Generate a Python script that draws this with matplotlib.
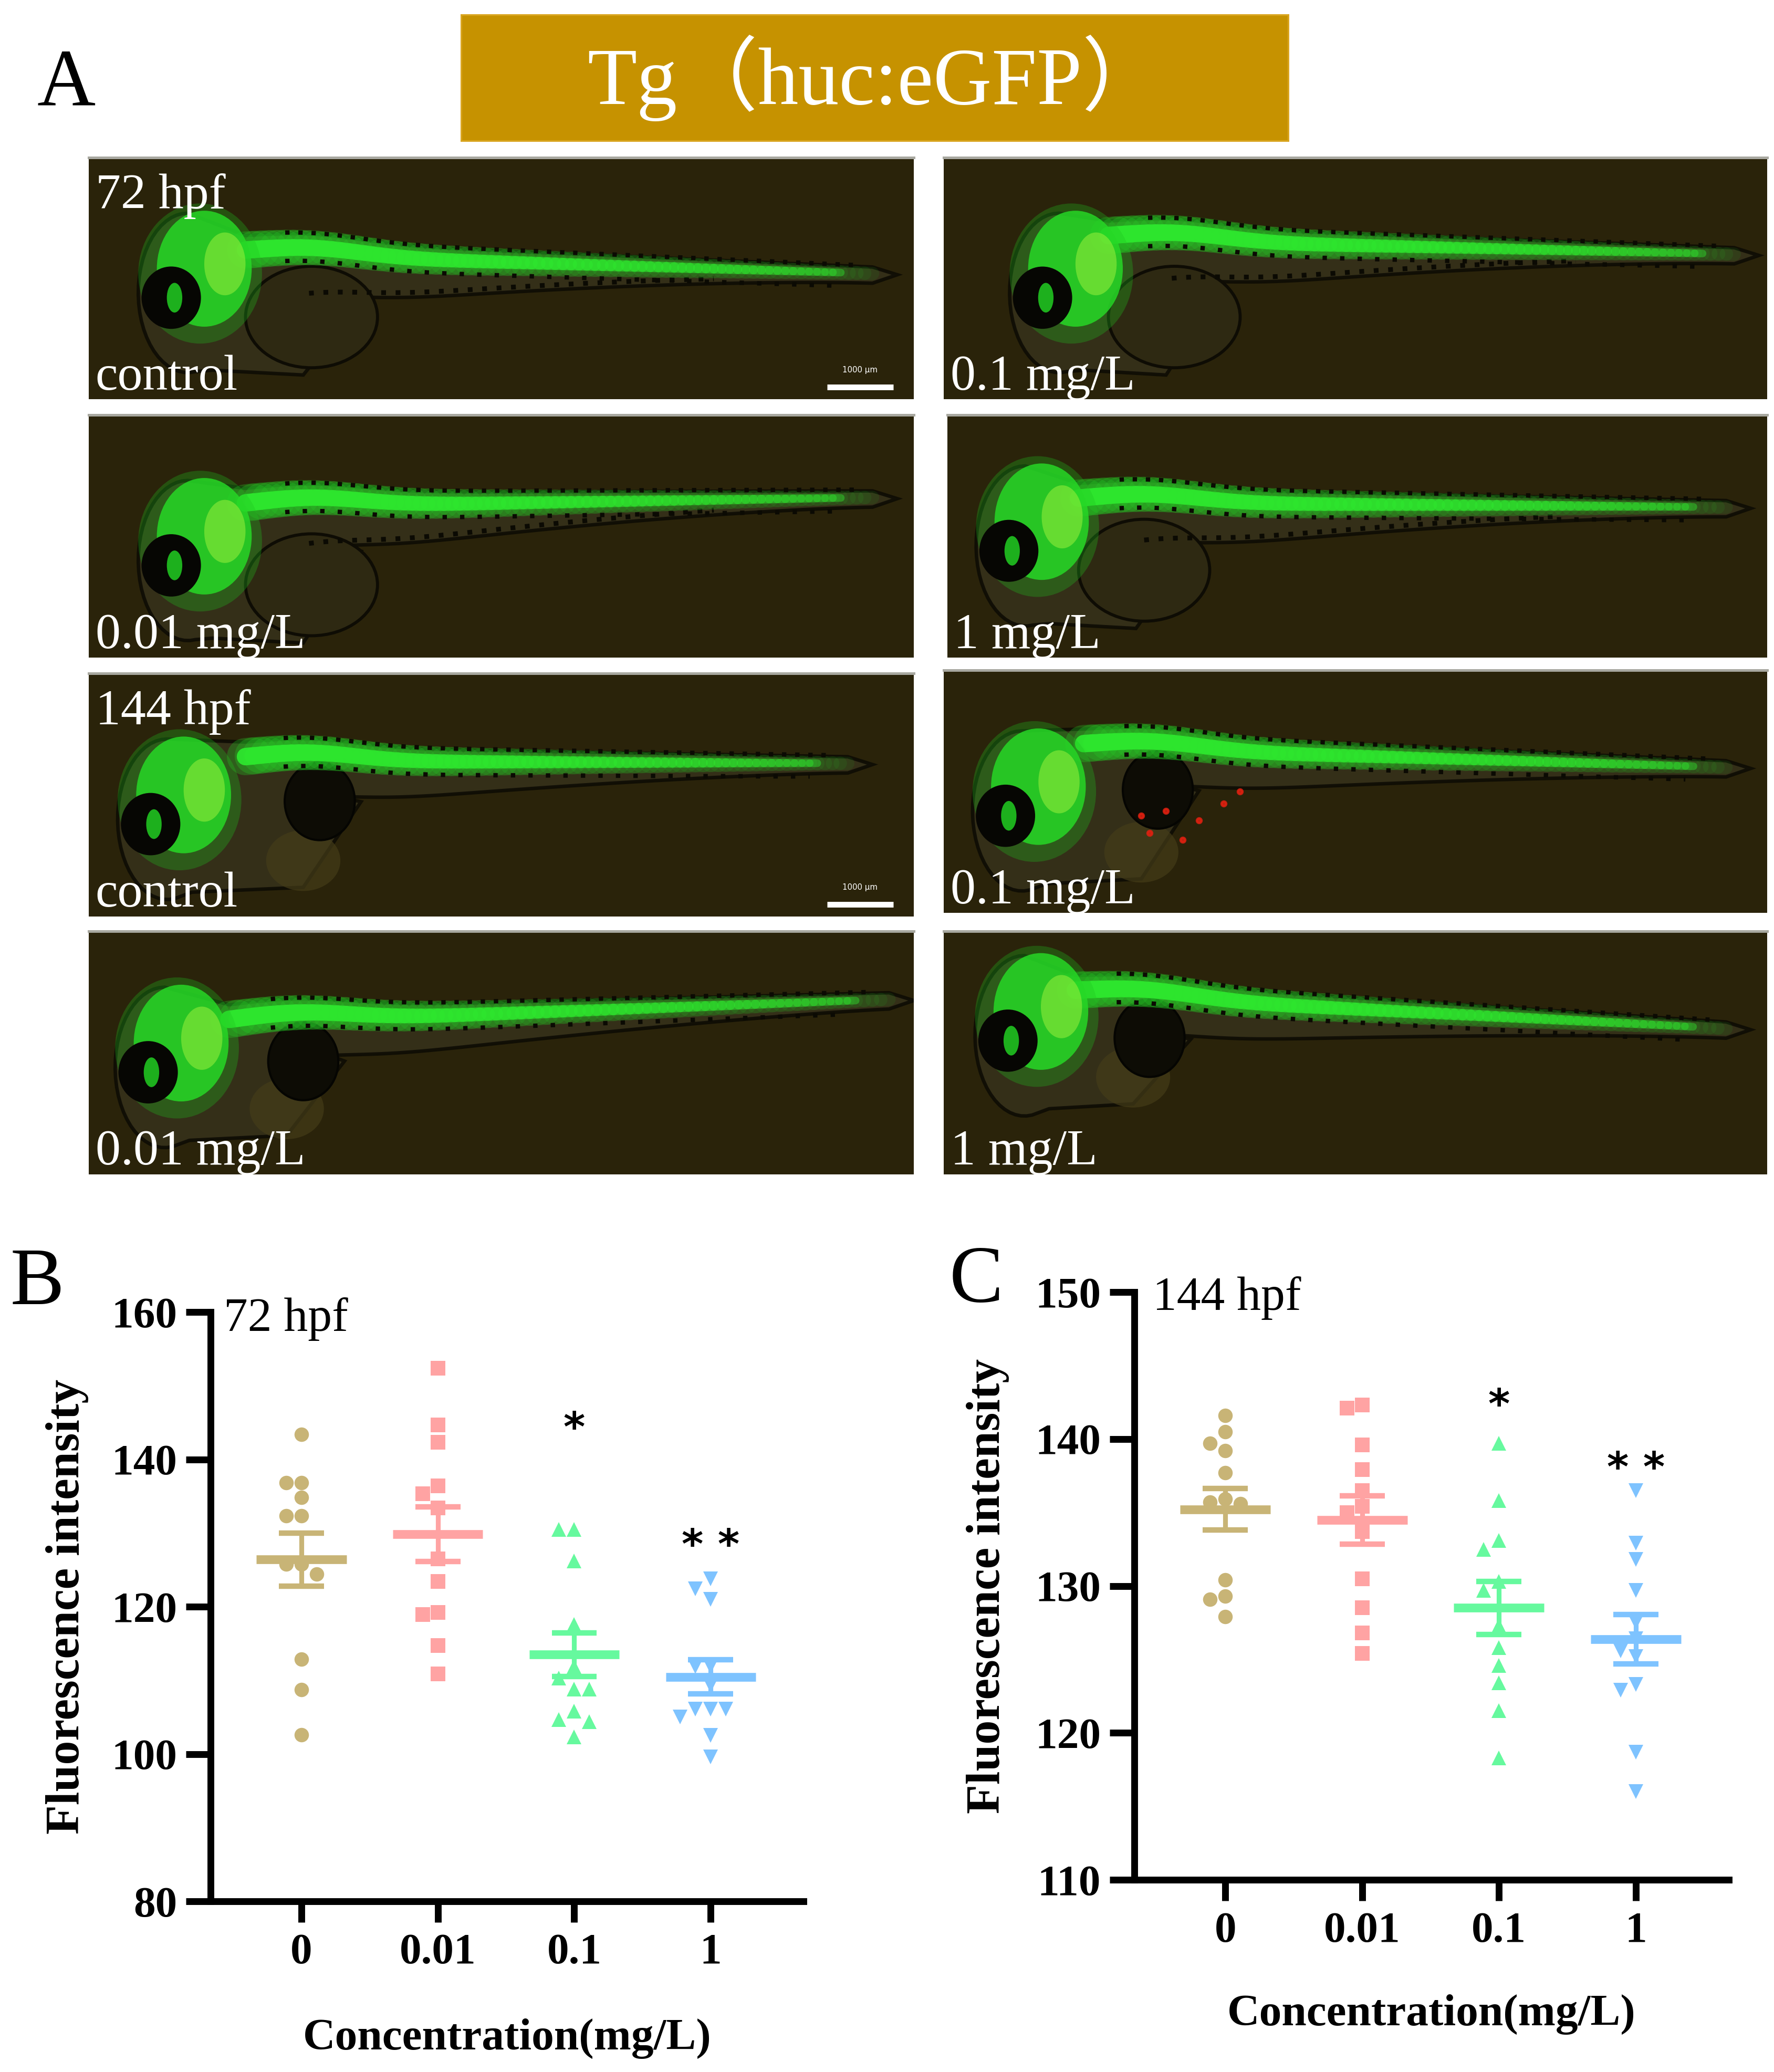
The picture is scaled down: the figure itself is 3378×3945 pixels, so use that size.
import numpy as np
import matplotlib
matplotlib.use('Agg')
import matplotlib.pyplot as plt
from matplotlib.patches import Ellipse, Polygon, Rectangle
from matplotlib.collections import LineCollection

W, H, DPI = 3378, 3945, 300
SERIF = 'Liberation Serif'

# ---------------- data ----------------
categories = ['0', '0.01', '0.1', '1']
b_0 = [143.4, 136.8, 136.8, 134.8, 132.3, 132.3, 125.8, 125.8, 124.4, 112.9, 108.7, 102.6]
b_001 = [152.4, 144.7, 142.3, 136.4, 135.3, 133.4, 126.5, 123.4, 119.2, 118.9, 114.7, 110.9]
b_01 = [130.5, 130.5, 126.2, 117.6, 111.9, 110.3, 108.8, 108.8, 105.8, 104.7, 104.4, 102.3]
b_1 = [123.8, 122.4, 121.0, 111.9, 111.9, 109.3, 106.1, 106.1, 106.1, 105.0, 102.5, 99.6]
c_0 = [141.6, 140.5, 139.7, 139.2, 137.7, 135.9, 135.7, 135.6, 130.4, 129.3, 129.1, 127.9]
c_001 = [142.3, 142.1, 139.6, 137.9, 136.5, 135.4, 135.0, 133.7, 130.5, 128.5, 126.8, 125.4]
c_01 = [139.7, 135.8, 133.1, 132.5, 130.3, 129.7, 127.3, 125.8, 124.6, 123.4, 121.5, 118.3]
c_1 = [136.5, 132.9, 131.8, 129.7, 127.5, 126.4, 125.6, 125.2, 123.3, 122.9, 118.7, 116.0]
b_yticks = [80, 100, 120, 140, 160]
c_yticks = [110, 120, 130, 140, 150]
sig_labels = ['', '', '*', '* *']
b_sig_y = [None, None, 144.0, 128.1]
c_sig_y = [None, None, 142.2, 137.9]

colors = ['#C8B476', '#FFA3A3', '#66F99E', '#7EC3FF']
markers = ['o', 's', '^', 'v']

photo_labels = [['control', '0.1 mg/L'], ['0.01 mg/L', '1 mg/L'],
                ['control', '0.1 mg/L'], ['0.01 mg/L', '1 mg/L']]

fig = plt.figure(figsize=(W / DPI, H / DPI), dpi=DPI)
fig.patch.set_facecolor('white')


def px_axes(x0, y0, x1, y1):
    return fig.add_axes([x0 / W, 1 - y1 / H, (x1 - x0) / W, (y1 - y0) / H])


# ---------------- panel A ----------------
fig.text(70 / W, 1 - 200 / H, 'A', family=SERIF, fontsize=37, va='baseline', ha='left')
hdr = px_axes(877, 27, 2455, 270)
hdr.set_xlim(0, 1); hdr.set_ylim(0, 1); hdr.axis('off')
hdr.add_patch(Rectangle((0, 0), 1, 1, facecolor='#C69200', edgecolor='#D9A520', lw=1.5))
hdr.text(0.5, 0.5, 'Tg（huc:eGFP）', family=[SERIF, 'Noto Sans CJK SC'], fontsize=37,
         color='white', ha='center', va='center')

BG = '#2A230A'


def draw_fish(ax, ex, ey, x0, y0, x1, y1, stage, r, red=False):
    t = np.linspace(0, 1, 80)
    bx = x0 + (x1 - x0) * t
    by = y0 + (y1 - y0) * t + 0.035 * np.exp(-((t - 0.1) / 0.12) ** 2)
    top = by + 0.06 * (1 - 0.55 * t)
    if stage == 72:
        bot = by - (0.04 + 0.20 * (1 - t) ** 1.6)
    else:
        bot = by - (0.04 + 0.17 * (1 - t) ** 1.4)
    # head outline
    ang = np.linspace(0.5 * np.pi, 1.55 * np.pi, 30)
    hx = ex + 0.02 + 0.06 * np.cos(ang)
    hy = ey + 0.02 + 0.33 * np.sin(ang)
    chin_x = np.array([ex + 0.05, x0 + 0.07, x0 + 0.14])
    if stage == 72:
        chin_y = np.array([ey - 0.30, ey - 0.32, by[10] - 0.22])
    else:
        chin_y = np.array([ey - 0.28, ey - 0.26, by[10] - 0.2])
    xs = np.concatenate([hx, chin_x, bx[12:], [x1 + 0.03], bx[::-1]])
    ys = np.concatenate([hy, chin_y, bot[12:], [y1 - 0.005], top[::-1]])
    ax.add_patch(Polygon(np.column_stack([xs, ys]), closed=True, facecolor='#36311A',
                         edgecolor='#0E0C04', lw=1.6, alpha=0.9, zorder=2))
    # yolk / gut
    if stage == 72:
        ax.add_patch(Ellipse((x0 + 0.08, ey - 0.08), 0.16, 0.42, facecolor='#2E2912',
                             edgecolor='#0E0C04', lw=1.4, zorder=2.2))
        ax.plot(bx[8:60], bot[8:60] + 0.02, ls=(0, (1, 2)), color='#0B0A03', lw=2.2, zorder=2.3)
    else:
        ax.add_patch(Ellipse((x0 + 0.09, by[8] - 0.2), 0.085, 0.32, facecolor='#0D0C05',
                             edgecolor='#050502', lw=1, zorder=2.3))
        ax.add_patch(Ellipse((x0 + 0.07, ey - 0.15), 0.09, 0.25, facecolor='#443C18',
                             edgecolor='none', alpha=0.7, zorder=2.2))
    # dorsal green band with glow, fading towards the tail
    pts = np.column_stack([bx, by]).reshape(-1, 1, 2)
    segs = np.concatenate([pts[:-1], pts[1:]], axis=1)
    tt = t[:-1]
    glow_c = [(0.15, 0.80, 0.15, 0.30 * (1 - 0.7 * s)) for s in tt]
    ax.add_collection(LineCollection(segs, colors=glow_c, linewidths=17 * (1 - 0.65 * tt),
                                     capstyle='round', zorder=3))
    core_c = [(0.18, 0.90, 0.18, 0.95 - 0.55 * s) for s in tt]
    ax.add_collection(LineCollection(segs[:-4], colors=core_c[:-4],
                                     linewidths=(8 * (1 - 0.6 * tt))[:-4],
                                     capstyle='round', zorder=3.1))
    ax.plot(bx[5:75], by[5:75] - 0.055, ls=(0, (1, 3)), color='#0B0A03', lw=2, zorder=3.2)
    ax.plot(bx[5:78], top[5:78] + 0.005, ls=(0, (1, 2)), color='#0B0A03', lw=2, zorder=3.2)
    # green head
    ax.add_patch(Ellipse((ex + 0.035, ey + 0.1), 0.15, 0.58, facecolor='#1FC21F', alpha=0.30,
                         edgecolor='none', zorder=3.3))
    ax.add_patch(Ellipse((ex + 0.04, ey + 0.12), 0.115, 0.48, facecolor='#26D826', alpha=0.85,
                         edgecolor='none', zorder=3.4))
    ax.add_patch(Ellipse((ex + 0.065, ey + 0.14), 0.05, 0.26, facecolor='#9BEF3C', alpha=0.55,
                         edgecolor='none', zorder=3.5))
    # eye
    ew = 0.072
    ax.add_patch(Ellipse((ex, ey), ew, ew * r * 1.05, facecolor='#060603', edgecolor='none',
                         zorder=4))
    ax.add_patch(Ellipse((ex + 0.004, ey), ew * 0.26, ew * r * 0.5, facecolor='#1DB01D',
                         edgecolor='none', zorder=4.1))
    if red:
        for (rx, ry) in [(0.25, 0.33), (0.27, 0.42), (0.31, 0.38), (0.34, 0.45),
                         (0.29, 0.3), (0.36, 0.5), (0.24, 0.4)]:
            ax.plot(rx, ry, 'o', ms=2.2, color='#E02010', alpha=0.85, zorder=4.2)


photo_px = [
    [(169, 300, 1740, 760), (1797, 300, 3365, 760)],
    [(169, 790, 1740, 1252), (1804, 790, 3365, 1252)],
    [(169, 1282, 1740, 1745), (1797, 1276, 3365, 1738)],
    [(169, 1773, 1740, 2236), (1797, 1773, 3365, 2236)],
]
fish_par = [
    [dict(ex=0.10, ey=0.42, x0=0.19, y0=0.60, x1=0.95, y1=0.52, stage=72),
     dict(ex=0.12, ey=0.42, x0=0.20, y0=0.66, x1=0.96, y1=0.60, stage=72)],
    [dict(ex=0.10, ey=0.38, x0=0.19, y0=0.62, x1=0.95, y1=0.66, stage=72),
     dict(ex=0.075, ey=0.44, x0=0.16, y0=0.64, x1=0.95, y1=0.62, stage=72)],
    [dict(ex=0.075, ey=0.38, x0=0.19, y0=0.64, x1=0.92, y1=0.63, stage=144),
     dict(ex=0.075, ey=0.40, x0=0.17, y0=0.68, x1=0.95, y1=0.60, stage=144, red=True)],
    [dict(ex=0.072, ey=0.42, x0=0.17, y0=0.62, x1=0.97, y1=0.72, stage=144),
     dict(ex=0.078, ey=0.55, x0=0.16, y0=0.74, x1=0.95, y1=0.60, stage=144)],
]
for ri in range(4):
    for ci in range(2):
        x0p, y0p, x1p, y1p = photo_px[ri][ci]
        ax = px_axes(x0p, y0p, x1p, y1p)
        ax.set_xlim(0, 1); ax.set_ylim(0, 1)
        ax.set_xticks([]); ax.set_yticks([])
        ax.set_facecolor(BG)
        for s in ax.spines.values():
            s.set_visible(False)
        ax.plot([0, 1], [1, 1], color='#A8A8A0', lw=1.2, transform=ax.transAxes, clip_on=False)
        r = (x1p - x0p) / (y1p - y0p)
        draw_fish(ax, r=r, **fish_par[ri][ci])
        ax.text(0.008, 0.04, photo_labels[ri][ci], family=SERIF, fontsize=23, color='white',
                ha='left', va='baseline', zorder=6)
        if ci == 0 and ri in (0, 2):
            ax.text(0.008, 0.79, '72 hpf' if ri == 0 else '144 hpf', family=SERIF,
                    fontsize=23, color='white', ha='left', va='baseline', zorder=6)
            ax.plot([0.895, 0.975], [0.05, 0.05], color='white', lw=2.6, zorder=6,
                    solid_capstyle='butt')
            ax.text(0.935, 0.12, '1000 μm', family='DejaVu Sans', fontsize=3.6, color='white',
                    ha='center', va='center', zorder=6)


# ---------------- scatter panels ----------------
def swarm_offsets(vals, ypx, xpx, diam):
    vals = np.asarray(vals, float)
    order = np.argsort(-vals)
    placed = []
    offs = np.zeros(len(vals))
    for i in order:
        y = vals[i] * ypx
        for k in [0, -1, 1, -2, 2, -3, 3, -4, 4, -5, 5]:
            x = k * diam
            if all((x - px) ** 2 + (y - py) ** 2 >= (0.95 * diam) ** 2 for px, py in placed):
                break
        placed.append((x, y))
        offs[i] = x / xpx
    return offs


def scatter_panel(box, groups, ylim, yticks, sig_y, hpf, letter, letter_xy, hpf_xy, ylab_x, xlab_y):
    x0p, y0p, x1p, y1p = box
    ax = px_axes(x0p, y0p, x1p, y1p)
    xlim = (-0.665, 3.68)
    ax.set_xlim(*xlim)
    ax.set_ylim(*ylim)
    xpx = (x1p - x0p) / (xlim[1] - xlim[0])
    ypx = (y1p - y0p) / (ylim[1] - ylim[0])
    for i, vals in enumerate(groups):
        v = np.asarray(vals, float)
        off = swarm_offsets(v, ypx, xpx, 29)
        ax.plot(i + off, v, ls='none', marker=markers[i], ms=6.6, color=colors[i],
                mec='none', zorder=2, clip_on=False)
        m = v.mean()
        se = v.std(ddof=1) / np.sqrt(len(v))
        ax.hlines(m, i - 0.33, i + 0.33, color=colors[i], lw=4.0, zorder=3)
        ax.vlines(i, m - se, m + se, color=colors[i], lw=2.2, zorder=3)
        ax.hlines([m - se, m + se], i - 0.165, i + 0.165, color=colors[i], lw=2.5, zorder=3)
        if sig_y[i] is not None:
            ax.text(i, sig_y[i], sig_labels[i], family='DejaVu Sans', fontweight='bold',
                    fontsize=19, ha='center', va='center', zorder=4)
    ax.set_xticks(range(len(categories)))
    ax.set_xticklabels(categories)
    ax.set_yticks(yticks)
    for s in ['top', 'right']:
        ax.spines[s].set_visible(False)
    for s in ['left', 'bottom']:
        ax.spines[s].set_linewidth(3.1)
        ax.spines[s].set_capstyle('projecting')
    ax.tick_params(axis='y', direction='out', length=11.3, width=3.1, pad=4)
    ax.tick_params(axis='x', direction='out', length=9.6, width=3.1, pad=5)
    for lab in ax.get_xticklabels() + ax.get_yticklabels():
        lab.set_family(SERIF); lab.set_fontweight('bold'); lab.set_fontsize(20)
    ax.set_ylabel('Fluorescence intensity', family=SERIF, fontweight='bold', fontsize=22)
    ax.yaxis.set_label_coords(ylab_x, 0.5)
    ax.set_xlabel('Concentration(mg/L)', family=SERIF, fontweight='bold', fontsize=20.5)
    ax.xaxis.set_label_coords(0.5, xlab_y)
    ax.text(hpf_xy[0], hpf_xy[1], hpf, transform=ax.transAxes, family=SERIF, fontsize=22,
            ha='left', va='baseline')
    fig.text(letter_xy[0] / W, 1 - letter_xy[1] / H, letter, family=SERIF, fontsize=37,
             ha='left', va='baseline')
    return ax


scatter_panel((401, 2498, 1530, 3620), [b_0, b_001, b_01, b_1], (80, 160), b_yticks, b_sig_y,
              '72 hpf', 'B', (20, 2483), (0.022, 0.968), -0.2055, -0.199)
scatter_panel((2160, 2460, 3292, 3579), [c_0, c_001, c_01, c_1], (110, 150), c_yticks, c_sig_y,
              '144 hpf', 'C', (1808, 2478), (0.031, 0.970), -0.210, -0.195)

fig.savefig('out.png', dpi=DPI, facecolor='white')
